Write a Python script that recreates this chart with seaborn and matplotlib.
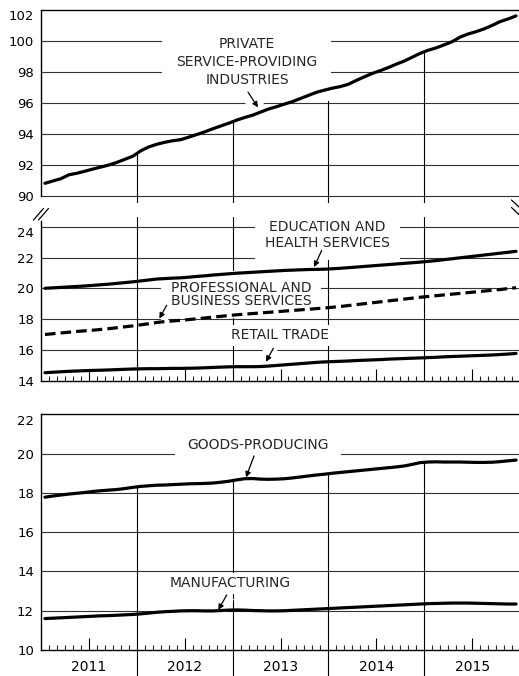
import numpy as np
import pandas as pd
import matplotlib
matplotlib.use("Agg")
import matplotlib.pyplot as plt
import matplotlib.transforms as mtransforms
from matplotlib.lines import Line2D
import seaborn as sns

# monthly employment, Jan 2011 - Dec 2015 (millions)
years = ["2011", "2012", "2013", "2014", "2015"]

private_services = [
    90.80, 90.95, 91.10, 91.35, 91.45, 91.58, 91.72, 91.85, 91.98, 92.15, 92.35, 92.55,
    92.90, 93.15, 93.32, 93.45, 93.55, 93.62, 93.78, 93.95, 94.12, 94.32, 94.50, 94.68,
    94.88, 95.05, 95.20, 95.40, 95.60, 95.75, 95.92, 96.08, 96.28, 96.48, 96.68, 96.82,
    96.95, 97.05, 97.20, 97.45, 97.68, 97.90, 98.08, 98.28, 98.50, 98.70, 98.95, 99.20,
    99.40, 99.55, 99.75, 99.95, 100.25, 100.45, 100.60, 100.78, 101.00, 101.25, 101.42, 101.62,
]
education_health = [
    20.00, 20.03, 20.06, 20.09, 20.12, 20.15, 20.19, 20.23, 20.27, 20.32, 20.37, 20.42,
    20.48, 20.54, 20.60, 20.63, 20.66, 20.68, 20.72, 20.77, 20.81, 20.86, 20.90, 20.94,
    20.98, 21.01, 21.04, 21.07, 21.10, 21.13, 21.16, 21.18, 21.20, 21.22, 21.23, 21.24,
    21.27, 21.30, 21.34, 21.38, 21.42, 21.46, 21.50, 21.54, 21.58, 21.62, 21.66, 21.70,
    21.75, 21.80, 21.86, 21.92, 21.98, 22.04, 22.10, 22.16, 22.22, 22.28, 22.34, 22.40,
]
professional_business = [
    17.00, 17.05, 17.10, 17.15, 17.20, 17.24, 17.28, 17.33, 17.38, 17.44, 17.50, 17.56,
    17.63, 17.70, 17.78, 17.84, 17.88, 17.92, 17.97, 18.02, 18.07, 18.13, 18.18, 18.23,
    18.28, 18.32, 18.36, 18.40, 18.44, 18.48, 18.52, 18.56, 18.60, 18.64, 18.68, 18.72,
    18.77, 18.82, 18.88, 18.94, 19.00, 19.06, 19.12, 19.18, 19.24, 19.30, 19.36, 19.42,
    19.47, 19.52, 19.57, 19.62, 19.67, 19.72, 19.77, 19.82, 19.87, 19.92, 19.98, 20.04,
]
retail_trade = [
    14.52, 14.55, 14.58, 14.61, 14.63, 14.65, 14.67, 14.68, 14.70, 14.72, 14.74, 14.76,
    14.77, 14.78, 14.78, 14.79, 14.80, 14.80, 14.81, 14.82, 14.84, 14.86, 14.88, 14.90,
    14.91, 14.91, 14.91, 14.92, 14.95, 14.99, 15.03, 15.07, 15.11, 15.15, 15.19, 15.22,
    15.24, 15.26, 15.28, 15.31, 15.33, 15.35, 15.37, 15.40, 15.42, 15.44, 15.46, 15.48,
    15.50, 15.52, 15.55, 15.57, 15.59, 15.61, 15.63, 15.65, 15.67, 15.70, 15.73, 15.77,
]
goods_producing = [
    17.78, 17.84, 17.89, 17.94, 17.98, 18.02, 18.07, 18.11, 18.14, 18.17, 18.22, 18.28,
    18.33, 18.36, 18.39, 18.40, 18.42, 18.44, 18.46, 18.47, 18.48, 18.50, 18.54, 18.59,
    18.66, 18.72, 18.73, 18.70, 18.69, 18.70, 18.72, 18.76, 18.81, 18.86, 18.91, 18.95,
    19.00, 19.04, 19.08, 19.12, 19.16, 19.20, 19.24, 19.28, 19.32, 19.37, 19.45, 19.54,
    19.57, 19.58, 19.57, 19.57, 19.57, 19.56, 19.55, 19.55, 19.56, 19.59, 19.63, 19.67,
]
manufacturing = [
    11.60, 11.62, 11.64, 11.66, 11.68, 11.70, 11.72, 11.74, 11.75, 11.77, 11.79, 11.81,
    11.84, 11.88, 11.92, 11.95, 11.97, 11.99, 12.00, 12.00, 11.99, 11.99, 12.01, 12.03,
    12.04, 12.03, 12.01, 12.00, 11.99, 11.99, 12.00, 12.02, 12.04, 12.06, 12.08, 12.10,
    12.12, 12.14, 12.16, 12.18, 12.20, 12.22, 12.24, 12.26, 12.28, 12.30, 12.32, 12.34,
    12.36, 12.37, 12.38, 12.39, 12.39, 12.39, 12.38, 12.37, 12.36, 12.35, 12.34, 12.34,
]

month = np.arange(60) + 0.5
df = pd.DataFrame({
    "month": month,
    "private": private_services,
    "edu": education_health,
    "pro": professional_business,
    "retail": retail_trade,
    "goods": goods_producing,
    "manuf": manufacturing,
})

sns.set_style("white")
plt.rcParams["font.family"] = ["DejaVu Sans"]

W, H = 519, 676
fig = plt.figure(figsize=(W / 100, H / 100), dpi=100)


def panel(top, bottom):
    return fig.add_axes([41 / W, 1 - bottom / H, 479 / W, (bottom - top) / H])


ax_top = panel(10, 203.4)
ax_mid = panel(217, 380.7)
ax_bot = panel(414.3, 650)

GRID = "#333333"
LW = 2.3
boundaries = [12, 24, 36, 48]

for ax, lo, hi in [(ax_top, 89.5, 102), (ax_mid, 14, 24.63), (ax_bot, 10, 22)]:
    ax.set_xlim(0, 60)
    ax.set_ylim(lo, hi)
    for s in ax.spines.values():
        s.set_color("black")
        s.set_linewidth(1.0)
    ax.spines["right"].set_visible(False)
    ax.tick_params(axis="y", length=0, pad=5, labelsize=9.5, colors="black")

# top panel
ax_top.set_yticks(range(90, 103, 2))
ax_top.spines["bottom"].set_visible(False)
ax_top.spines["left"].set_bounds(90, 102)
ax_top.set_xticks([])
for v in range(90, 101, 2):
    ax_top.axhline(v, color=GRID, lw=0.8, zorder=1)
for b in boundaries:
    ax_top.vlines(b, 89.5, np.interp(b, month, private_services), color="black", lw=0.8, zorder=1)

# middle panel
ax_mid.set_yticks(range(14, 25, 2))
ax_mid.spines["top"].set_visible(False)
ax_mid.spines["left"].set_bounds(14, 24.4)
for v in range(16, 25, 2):
    ax_mid.axhline(v, color=GRID, lw=0.8, zorder=1)
for b in boundaries:
    ax_mid.axvline(b, color="black", lw=0.8, zorder=1)

# bottom panel
ax_bot.set_yticks(range(10, 23, 2))
for v in range(12, 21, 2):
    ax_bot.axhline(v, color=GRID, lw=0.8, zorder=1)
for b in boundaries:
    ax_bot.vlines(b, 10, np.interp(b, month, goods_producing), color="black", lw=0.8, zorder=1)
    ax_bot.plot([b, b], [0, -0.12], transform=ax_bot.get_xaxis_transform(),
                color="black", lw=0.8, clip_on=False)

# topmost value labels sit a little lower in the print
shift = mtransforms.ScaledTranslation(0, -3.8 / 72, fig.dpi_scale_trans)
for ax in (ax_top, ax_mid, ax_bot):
    lab = ax.yaxis.get_major_ticks()[-1].label1
    lab.set_transform(lab.get_transform() + shift)

mid_year = [6, 18, 30, 42, 54]
other_months = [m for m in range(1, 60) if m % 6 != 0]
for ax in (ax_mid, ax_bot):
    ax.set_xticks(mid_year)
    ax.set_xticks(other_months, minor=True)
    ax.tick_params(axis="x", which="major", direction="in", length=9, width=0.8,
                   bottom=True, pad=7, labelsize=10, colors="black")
    ax.tick_params(axis="x", which="minor", direction="in", length=3.8, width=0.8, bottom=True)
ax_mid.set_xticklabels([])
ax_bot.set_xticklabels(years)

# series
sns.lineplot(data=df, x="month", y="private", ax=ax_top, color="black", lw=LW, zorder=4)
sns.lineplot(data=df, x="month", y="edu", ax=ax_mid, color="black", lw=LW, zorder=4)
sns.lineplot(data=df, x="month", y="pro", ax=ax_mid, color="black", lw=LW, zorder=4,
             linestyle=(0, (3.3, 1.6)))
sns.lineplot(data=df, x="month", y="retail", ax=ax_mid, color="black", lw=LW, zorder=4)
sns.lineplot(data=df, x="month", y="goods", ax=ax_bot, color="black", lw=LW, zorder=4)
sns.lineplot(data=df, x="month", y="manuf", ax=ax_bot, color="black", lw=LW, zorder=4)
for ax in (ax_top, ax_mid, ax_bot):
    ax.set_xlabel("")
    ax.set_ylabel("")


def arrow(ax, start, tip):
    # white band under the arrow interrupts the grid, as in the print
    ax.plot([start[0], tip[0]], [start[1], tip[1]], color="white", lw=12,
            solid_capstyle="butt", zorder=2)
    ax.annotate("", xy=tip, xytext=start, zorder=3.5,
                arrowprops=dict(arrowstyle="-|>", color="black", lw=0.9, mutation_scale=8,
                                shrinkA=0, shrinkB=0))


def label(ax, x, y, s, pad, ls):
    ax.text(x, y, s, ha="center", va="center", fontsize=10, linespacing=ls, zorder=3,
            bbox=dict(boxstyle=f"square,pad={pad}", fc="white", ec="none"))


arrow(ax_top, (25.93, 96.69), (27.18, 95.71))
arrow(ax_mid, (35.16, 22.46), (34.2, 21.38))
arrow(ax_mid, (15.75, 18.90), (14.82, 18.04))
arrow(ax_mid, (29.1, 16.10), (28.18, 15.23))
arrow(ax_bot, (26.68, 19.88), (25.68, 18.79))
arrow(ax_bot, (23.26, 12.80), (22.21, 12.04))

label(ax_top, 25.8, 98.64, "PRIVATE\nSERVICE-PROVIDING\nINDUSTRIES", 1.0, 1.33)
label(ax_mid, 35.9, 23.46, "EDUCATION AND\nHEALTH SERVICES", 0.7, 1.22)
label(ax_mid, 25.1, 19.61, "PROFESSIONAL AND\nBUSINESS SERVICES", 0.7, 0.92)
label(ax_mid, 29.9, 16.96, "RETAIL TRADE", 0.25, 1.2)
label(ax_bot, 27.2, 20.42, "GOODS-PRODUCING", 0.9, 1.2)
label(ax_bot, 23.7, 13.40, "MANUFACTURING", 0.25, 1.2)

# axis break marks
for x0 in (33.5, 38.5):
    fig.add_artist(Line2D([x0 / W, (x0 + 10) / W], [1 - 220 / H, 1 - 208.5 / H],
                          color="black", lw=0.9))
for y0 in (200, 207.5):
    fig.add_artist(Line2D([511.5 / W, 519.5 / W], [1 - y0 / H, 1 - (y0 + 7.5) / H],
                          color="black", lw=0.9))

fig.savefig("out.png", dpi=100, facecolor="white")
